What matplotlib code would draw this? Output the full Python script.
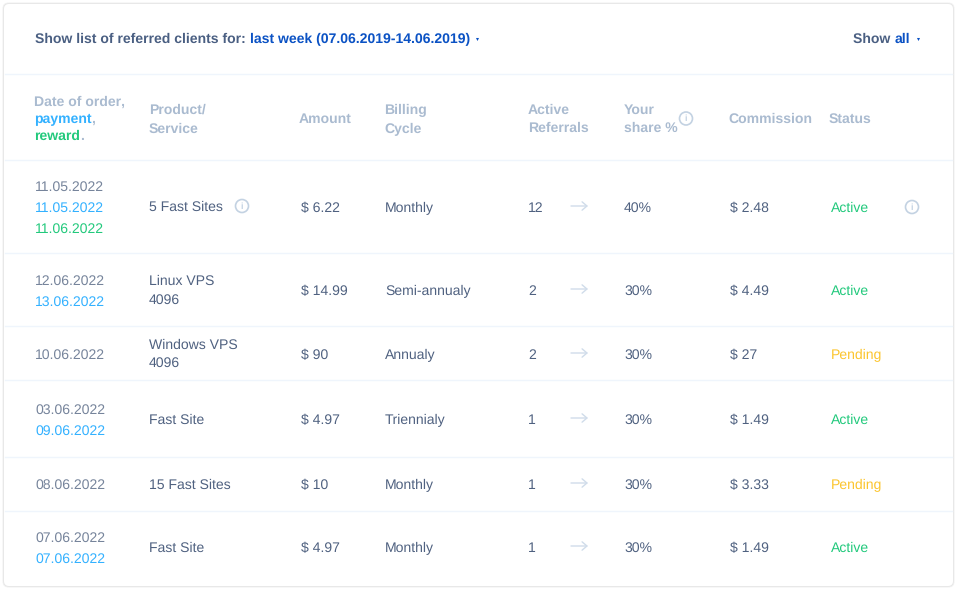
import matplotlib
matplotlib.use('Agg')
from matplotlib import pyplot as plt
from matplotlib.patches import FancyBboxPatch, Circle

plt.rcParams['font.family'] = ['Liberation Sans', 'DejaVu Sans']
plt.rcParams['text.hinting'] = 'no_hinting'
plt.rcParams['text.hinting_factor'] = 1

order_dates = ['11.05.2022', '12.06.2022', '10.06.2022', '03.06.2022', '08.06.2022', '07.06.2022']
payment_dates = ['11.05.2022', '13.06.2022', '', '09.06.2022', '', '07.06.2022']
reward_dates = ['11.06.2022', '', '', '', '', '']
products = [['5 Fast Sites'], ['Linux VPS', '4096'], ['Windows VPS', '4096'], ['Fast Site'], ['15 Fast Sites'], ['Fast Site']]
amounts = ['$ 6.22', '$ 14.99', '$ 90', '$ 4.97', '$ 10', '$ 4.97']
cycles = ['Monthly', 'Semi-annualy', 'Annualy', 'Triennialy', 'Monthly', 'Monthly']
referrals = [12, 2, 2, 1, 1, 1]
shares = ['40%', '30%', '30%', '30%', '30%', '30%']
commissions = ['$ 2.48', '$ 4.49', '$ 27', '$ 1.49', '$ 3.33', '$ 1.49']
statuses = ['Active', 'Active', 'Pending', 'Active', 'Pending', 'Active']

# layout in pixels
row_y = [207, 290, 354, 419, 484, 547]
date_y = [[186, 207, 228], [280, 301], [354], [409, 430], [484], [537, 558]]
product_y = [[206], [280, 299], [344, 362], [418.5], [483.5], [546.5]]
lines_y = [74, 160, 253, 326, 380, 457, 511]

DARK = '#4f6180'
GREY = '#76849b'
HEAD = '#aabbd0'
BLUE = '#33b1ff'
GREEN = '#22c97c'
YELLOW = '#fcc52d'
NAVY = '#0b52c4'
TITLE = '#4a5f82'
LINE = '#eff5fc'
ICON = '#c3d2e2'
FS = 10.1
HFS = 10.1

fig = plt.figure(figsize=(9.57, 5.9), dpi=100)
ax = fig.add_axes([0, 0, 1, 1])
ax.set_xlim(0, 957)
ax.set_ylim(590, 0)
ax.axis('off')

# card with soft shadow
for grow, col in [(1.5, '#f1f1f1'), (0.8, '#e6e6e6')]:
    ax.add_patch(FancyBboxPatch((4 - grow, 4 - grow), 949 + 2 * grow, 582 + 2 * grow,
                                boxstyle='round,pad=0,rounding_size=6', fc=col, ec='none'))
ax.add_patch(FancyBboxPatch((4, 4), 949, 582, boxstyle='round,pad=0,rounding_size=5',
                            fc='white', ec='none'))

for y in lines_y:
    ax.plot([5, 952], [y, y], color=LINE, lw=1)


def txt(x, y, s, color=DARK, size=FS, weight='normal'):
    # y is the middle of the digits, text sits on a common baseline
    return ax.text(x, y + 5, s, color=color, fontsize=size, fontweight=weight, va='baseline', ha='left')


def segments(x, y, parts, size=HFS):
    # several colours on one line, each piece starts where the last one ended
    rend = fig.canvas.get_renderer()
    for s, col in parts:
        t = txt(x, y, s, col, size, 'bold')
        x = ax.transData.inverted().transform(t.get_window_extent(rend).p1)[0]


def info(x, y):
    ax.add_patch(Circle((x, y), 6.5, fc='none', ec=ICON, lw=1.2))
    ax.text(x, y + 0.3, 'i', color=ICON, fontsize=6.5, fontweight='bold', ha='center', va='center')


def caret(x, y, col):
    ax.plot([x], [y], marker='v', ms=2.2, color=col, mec='none')


# top bar
segments(35, 38, [('Show list of referred clients for: ', TITLE),
                  ('last week (07.06.2019-14.06.2019)', NAVY)], size=10.1)
caret(477, 39, NAVY)
segments(853, 38, [('Show ', TITLE), ('all', NAVY)], size=10.1)
caret(918, 39, NAVY)

# header
txt(34, 101, 'Date of order,', HEAD, HFS, 'bold')
segments(34, 118, [('payment', BLUE), (',', HEAD)])
segments(34, 135, [('reward', GREEN), ('.', HEAD)])
txt(149, 109, 'Product/', HEAD, HFS, 'bold')
txt(149, 128, 'Service', HEAD, HFS, 'bold')
txt(299, 118, 'Amount', HEAD, HFS, 'bold')
txt(384, 109, 'Billing', HEAD, HFS, 'bold')
txt(384, 128, 'Cycle', HEAD, HFS, 'bold')
txt(528, 109, 'Active', HEAD, HFS, 'bold')
txt(528, 127, 'Referrals', HEAD, HFS, 'bold')
txt(624, 109, 'Your', HEAD, HFS, 'bold')
txt(624, 127, 'share %', HEAD, HFS, 'bold')
info(686, 118.5)
txt(728, 118, 'Commission', HEAD, HFS, 'bold')
txt(829, 118, 'Status', HEAD, HFS, 'bold')

status_colors = {'Active': GREEN, 'Pending': YELLOW}

for i in range(len(order_dates)):
    dates = [(order_dates[i], GREY), (payment_dates[i], BLUE), (reward_dates[i], GREEN)]
    dates = [d for d in dates if d[0]]
    for (s, col), y in zip(dates, date_y[i]):
        txt(35, y, s, col)
    for s, y in zip(products[i], product_y[i]):
        txt(149, y, s)
    txt(301, row_y[i], amounts[i])
    txt(385, row_y[i], cycles[i])
    txt(528, row_y[i], str(referrals[i]))
    ax.annotate('', xy=(588, row_y[i] - 1), xytext=(571, row_y[i] - 1),
                arrowprops=dict(arrowstyle='->,head_length=0.35,head_width=0.3',
                                color='#d0dcea', lw=1, shrinkA=0, shrinkB=0))
    txt(624, row_y[i], shares[i])
    txt(730, row_y[i], commissions[i])
    txt(831, row_y[i], statuses[i], status_colors[statuses[i]])

info(242, 206)
info(912, 207)

fig.savefig('out.png', dpi=100, facecolor='white')
